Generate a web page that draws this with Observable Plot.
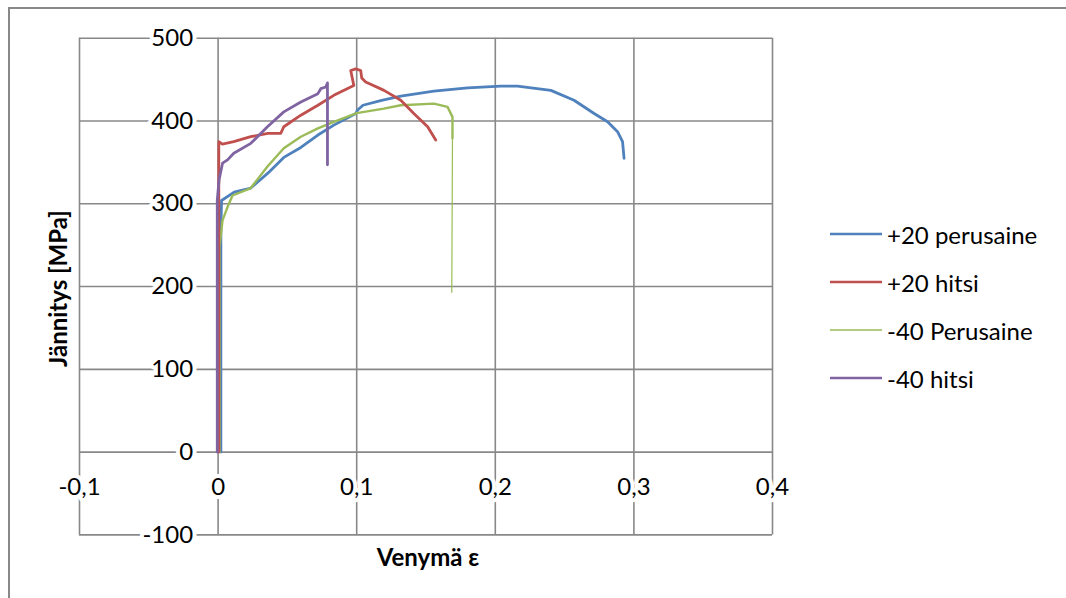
<!DOCTYPE html>
<html>
<head>
<meta charset="utf-8">
<script src="https://cdn.jsdelivr.net/npm/d3@7"></script>
<script src="https://cdn.jsdelivr.net/npm/@observablehq/plot@0.6"></script>
<style>
  html, body { margin: 0; padding: 0; background: #fff; overflow: hidden; }
  #wrap { position: relative; width: 1066px; height: 598px; font-family: Lato, "Open Sans", sans-serif; }
  #border { position: absolute; left: 8px; top: 7px; width: 1200px; height: 800px;
            border-top: 2px solid #888; border-left: 2px solid #888; pointer-events: none; }
  #legend { position: absolute; left: 830px; top: 210px; }
  .item { display: flex; align-items: center; height: 48px; font-size: 24px; color: #000; }
  .item svg { margin-right: 5px; }
</style>
</head>
<body>
<div id="wrap">
  <div id="border"></div>
  <div id="chart"></div>
  <div id="legend"></div>
</div>
<script>
// Tensile test curves: strain (Venymä ε) vs stress (Jännitys, MPa)
const seriesNames = ["+20 perusaine", "+20 hitsi", "-40 Perusaine", "-40 hitsi"];
const seriesColors = ["#4F81BD", "#C0504D", "#9BBB59", "#8064A2"];

const base20Strain = [0.002, 0.002, 0.0025, 0.0116, 0.0236, 0.0359, 0.0474, 0.0597, 0.072, 0.0835, 0.0994, 0.1005, 0.1045, 0.118, 0.1318, 0.1557, 0.180, 0.204, 0.216, 0.2401, 0.2568, 0.2713, 0.281, 0.2882, 0.2918, 0.2929];
const base20Stress = [0, 270, 304, 314, 319, 337, 356, 368, 383, 395, 409, 413, 419, 425, 430, 436, 440, 442, 442, 437, 425, 409, 399, 387, 375, 355];

const weld20Strain = [0.0005, 0.0005, 0.0031, 0.0113, 0.0236, 0.0359, 0.0452, 0.0474, 0.0597, 0.072, 0.0835, 0.0979, 0.0957, 0.0993, 0.1029, 0.1036, 0.1065, 0.1197, 0.1318, 0.1412, 0.1512, 0.157];
const weld20Stress = [0, 375, 372, 375, 381, 385, 385, 393, 407, 419, 431, 443, 461, 463, 461, 452, 447, 437, 425, 409, 393, 377];

const base40Strain = [0.001, 0.001, 0.0032, 0.0068, 0.0104, 0.0236, 0.0356, 0.0474, 0.0597, 0.072, 0.0835, 0.1, 0.1195, 0.1318, 0.1557, 0.1655, 0.1691, 0.1691];
const base40Stress = [0, 248, 280, 296, 310, 319, 345, 367, 381, 391, 399, 409.5, 415, 419, 421, 417, 405, 379];
// final fracture drop of the -40 base material specimen
const base40TailStrain = [0.1691, 0.1686];
const base40TailStress = [379, 193];

const weld40Strain = [-0.0006, -0.0006, 0.0007, 0.0032, 0.0068, 0.0113, 0.0236, 0.0356, 0.0474, 0.0597, 0.072, 0.0741, 0.0777, 0.0789, 0.0789];
const weld40Stress = [0, 304, 329, 349, 353, 361, 373, 393, 411, 423, 433, 439, 441, 446, 347];

const xTicks = [-0.1, 0, 0.1, 0.2, 0.3, 0.4];
const yTicks = [-100, 0, 100, 200, 300, 400, 500];

const rows = (strain, stress, name) => strain.map((e, i) => ({e, s: stress[i], name}));
const base20 = rows(base20Strain, base20Stress, seriesNames[0]);
const weld20 = rows(weld20Strain, weld20Stress, seriesNames[1]);
const base40 = rows(base40Strain, base40Stress, seriesNames[2]);
const base40Tail = rows(base40TailStrain, base40TailStress, seriesNames[2]);
const weld40 = rows(weld40Strain, weld40Stress, seriesNames[3]);

const fmt = d => String(d).replace(".", ",");
const gridColor = "#888";
const font = "Lato, 'Open Sans', sans-serif";

const chart = Plot.plot({
  width: 1066,
  height: 598,
  marginLeft: 79,
  marginRight: 294,
  marginTop: 37.7,
  marginBottom: 63.6,
  style: {fontFamily: font, fontSize: "24px", background: "transparent"},
  x: {domain: [-0.1, 0.4], axis: null},
  y: {domain: [-100, 500], axis: null},
  color: {domain: seriesNames, range: seriesColors},
  marks: [
    Plot.ruleX(xTicks, {stroke: gridColor, strokeWidth: 1.6}),
    Plot.ruleY(yTicks, {stroke: gridColor, strokeWidth: 1.6}),
    Plot.line(base20, {x: "e", y: "s", stroke: seriesColors[0], strokeWidth: 2.8, strokeLinejoin: "round"}),
    Plot.line(base40, {x: "e", y: "s", stroke: seriesColors[2], strokeWidth: 2.4, strokeLinejoin: "round"}),
    Plot.line(base40Tail, {x: "e", y: "s", stroke: seriesColors[2], strokeWidth: 1.2}),
    Plot.line(weld20, {x: "e", y: "s", stroke: seriesColors[1], strokeWidth: 2.8, strokeLinejoin: "round"}),
    Plot.line(weld40, {x: "e", y: "s", stroke: seriesColors[3], strokeWidth: 2.8, strokeLinejoin: "round"}),
    // tick labels sit on the axes, which cross at the origin
    Plot.text(yTicks, {x: 0, y: d => d, text: d => fmt(d), dx: -25, textAnchor: "end",
      fill: "#000", stroke: "#fff", strokeWidth: 8, paintOrder: "stroke", fontSize: 24}),
    Plot.text(xTicks, {x: d => d, y: 0, text: d => fmt(d), dy: 35, textAnchor: "middle",
      fill: "#000", stroke: "#fff", strokeWidth: 8, paintOrder: "stroke", fontSize: 24}),
    Plot.text(["Jännitys [MPa]"], {frameAnchor: "left", dx: -20, dy: 2, rotate: -90,
      textAnchor: "middle", lineAnchor: "middle",
      fontWeight: "bold", fontSize: 24, fill: "#000"}),
    Plot.text(["Venymä ε"], {frameAnchor: "bottom", dy: 23, dx: 2,
      textAnchor: "middle", lineAnchor: "middle",
      fontWeight: "bold", fontSize: 24, fill: "#000"})
  ]
});
document.getElementById("chart").appendChild(chart);

// Legend to the right of the plot area
const legend = d3.select("#legend");
seriesNames.forEach((name, i) => {
  const item = legend.append("div").attr("class", "item");
  const sw = item.append("svg").attr("width", 52).attr("height", 10);
  sw.append("line").attr("x1", 0).attr("x2", 52).attr("y1", 5).attr("y2", 5)
    .attr("stroke", seriesColors[i]).attr("stroke-width", i === 2 ? 1.3 : 2.4);
  item.append("span").text(name);
});
</script>
</body>
</html>
